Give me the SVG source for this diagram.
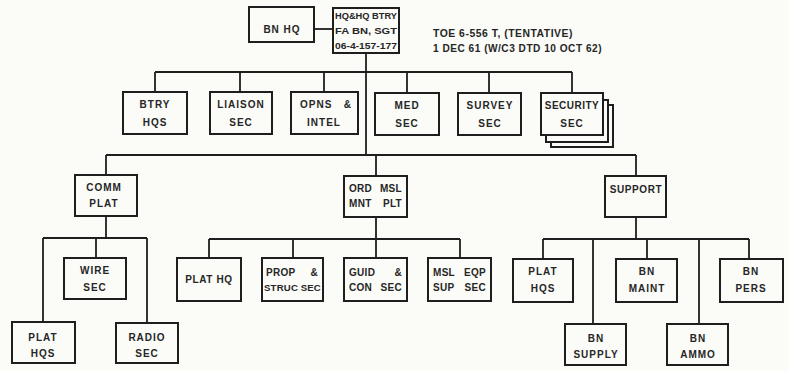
<svg xmlns="http://www.w3.org/2000/svg" width="789" height="371" viewBox="0 0 789 371">
<style>
.bg{fill:#fbfbf8}
.box{fill:#fbfbf8;stroke:#1e1e1e;stroke-width:2}
.ln{stroke:#1e1e1e;stroke-width:1.8;fill:none}
text{font-family:"Liberation Sans",Arial,sans-serif;font-weight:bold;font-size:10px;fill:#262626;letter-spacing:1px}
.c{text-anchor:middle}
.e{text-anchor:end}
.j{font-size:10px;letter-spacing:0.3px}
.s{font-size:9.6px;letter-spacing:0.2px}
.hq{font-size:9px;letter-spacing:0}
.toe{font-size:10px;letter-spacing:0.5px}
</style>
<rect class="bg" x="0" y="0" width="789" height="371"/>
<g id="connectors">
<line class="ln" x1="314" y1="29" x2="333" y2="29"/>
<line class="ln" x1="366" y1="53" x2="366" y2="155"/>
<line class="ln" x1="155" y1="72" x2="572" y2="72"/>
<line class="ln" x1="155" y1="72" x2="155" y2="92"/>
<line class="ln" x1="240" y1="72" x2="240" y2="92"/>
<line class="ln" x1="324" y1="72" x2="324" y2="92"/>
<line class="ln" x1="407" y1="72" x2="407" y2="93"/>
<line class="ln" x1="489" y1="72" x2="489" y2="93"/>
<line class="ln" x1="572" y1="72" x2="572" y2="93"/>
<line class="ln" x1="106" y1="155" x2="636" y2="155"/>
<line class="ln" x1="106" y1="155" x2="106" y2="175"/>
<line class="ln" x1="376" y1="155" x2="376" y2="176"/>
<line class="ln" x1="636" y1="155" x2="636" y2="176"/>
<line class="ln" x1="106" y1="216" x2="106" y2="238"/>
<line class="ln" x1="43" y1="238" x2="147" y2="238"/>
<line class="ln" x1="43" y1="238" x2="43" y2="322"/>
<line class="ln" x1="96" y1="238" x2="96" y2="258"/>
<line class="ln" x1="147" y1="238" x2="147" y2="323"/>
<line class="ln" x1="376" y1="217" x2="376" y2="258"/>
<line class="ln" x1="209" y1="239" x2="460" y2="239"/>
<line class="ln" x1="209" y1="239" x2="209" y2="258"/>
<line class="ln" x1="293" y1="239" x2="293" y2="258"/>
<line class="ln" x1="460" y1="239" x2="460" y2="258"/>
<line class="ln" x1="636" y1="217" x2="636" y2="239"/>
<line class="ln" x1="543" y1="239" x2="749" y2="239"/>
<line class="ln" x1="543" y1="239" x2="543" y2="259"/>
<line class="ln" x1="593" y1="239" x2="593" y2="324"/>
<line class="ln" x1="647" y1="239" x2="647" y2="259"/>
<line class="ln" x1="699" y1="239" x2="699" y2="324"/>
<line class="ln" x1="749" y1="239" x2="749" y2="259"/>
</g>
<g id="bn-hq"><rect class="box" x="249" y="7" width="65" height="35"/><text class="c" x="282" y="33">BN  HQ</text></g>
<g id="hq-btry"><rect class="box" x="333" y="8" width="66" height="45"/>
<text class="hq" x="335" y="19" textLength="62" lengthAdjust="spacingAndGlyphs">HQ&amp;HQ BTRY</text>
<text class="hq" x="335" y="34" textLength="62" lengthAdjust="spacingAndGlyphs">FA BN, SGT</text>
<text class="hq" x="335" y="49" textLength="62" lengthAdjust="spacingAndGlyphs">06-4-157-177</text></g>
<g id="toe"><text class="toe" x="433" y="37" textLength="140" lengthAdjust="spacingAndGlyphs">TOE  6-556 T, (TENTATIVE)</text><text class="toe" x="433" y="52" textLength="169" lengthAdjust="spacingAndGlyphs">1 DEC 61 (W/C3 DTD 10 OCT 62)</text></g>
<g id="btry-hqs"><rect class="box" x="123" y="92" width="64" height="42"/><text class="c" x="155" y="108">BTRY</text><text class="c" x="155" y="126">HQS</text></g>
<g id="liaison"><rect class="box" x="210" y="92" width="62" height="42"/><text class="c" x="241" y="108">LIAISON</text><text class="c" x="241" y="126">SEC</text></g>
<g id="opns"><rect class="box" x="291" y="92" width="67" height="42"/><text x="300" y="108">OPNS</text><text class="e" x="352" y="108">&amp;</text><text class="c" x="324" y="126">INTEL</text></g>
<g id="med"><rect class="box" x="375" y="93" width="64" height="42"/><text class="c" x="407" y="109">MED</text><text class="c" x="407" y="127">SEC</text></g>
<g id="survey"><rect class="box" x="458" y="93" width="63" height="42"/><text class="c" x="490" y="109">SURVEY</text><text class="c" x="490" y="127">SEC</text></g>
<g id="security"><rect class="box" x="551" y="105" width="62" height="42"/><rect class="box" x="546" y="100" width="62" height="42"/><rect class="box" x="541" y="93" width="62" height="42"/><text class="c" x="572" y="109" style="letter-spacing:0.5px">SECURITY</text><text class="c" x="572" y="127">SEC</text></g>
<g id="comm-plat"><rect class="box" x="75" y="175" width="62" height="41"/><text class="c" x="104" y="191">COMM</text><text class="c" x="104" y="207">PLAT</text></g>
<g id="wire"><rect class="box" x="64" y="258" width="62" height="41"/><text class="c" x="95" y="274">WIRE</text><text class="c" x="95" y="291">SEC</text></g>
<g id="comm-plat-hqs"><rect class="box" x="12" y="322" width="63" height="41"/><text class="c" x="43" y="341">PLAT</text><text class="c" x="43" y="357">HQS</text></g>
<g id="radio"><rect class="box" x="116" y="323" width="62" height="40"/><text class="c" x="147" y="341">RADIO</text><text class="c" x="147" y="357">SEC</text></g>
<g id="ord"><rect class="box" x="344" y="176" width="63" height="41"/><text class="j" x="349" y="192">ORD</text><text class="j e" x="402" y="192">MSL</text><text class="j" x="349" y="207">MNT</text><text class="j e" x="402" y="207">PLT</text></g>
<g id="plat-hq"><rect class="box" x="177" y="258" width="64" height="43"/><text class="c" x="209" y="283" style="letter-spacing:0.6px">PLAT HQ</text></g>
<g id="prop"><rect class="box" x="262" y="258" width="61" height="43"/><text class="j" x="266" y="276">PROP</text><text class="j e" x="318" y="276">&amp;</text><text class="s" x="264" y="291">STRUC</text><text class="s e" x="321" y="291">SEC</text></g>
<g id="guid"><rect class="box" x="344" y="258" width="63" height="43"/><text class="j" x="349" y="276">GUID</text><text class="j e" x="402" y="276">&amp;</text><text class="j" x="349" y="291">CON</text><text class="j e" x="402" y="291">SEC</text></g>
<g id="msl-eqp"><rect class="box" x="428" y="258" width="63" height="43"/><text class="j" x="433" y="276">MSL</text><text class="j e" x="486" y="276">EQP</text><text class="j" x="433" y="291">SUP</text><text class="j e" x="486" y="291">SEC</text></g>
<g id="support"><rect class="box" x="605" y="176" width="61" height="41"/><text class="c" x="636" y="193" style="letter-spacing:0.6px">SUPPORT</text></g>
<g id="sup-plat-hqs"><rect class="box" x="513" y="259" width="60" height="43"/><text class="c" x="543" y="275">PLAT</text><text class="c" x="543" y="292">HQS</text></g>
<g id="bn-maint"><rect class="box" x="616" y="259" width="61" height="43"/><text class="c" x="647" y="275">BN</text><text class="c" x="647" y="292">MAINT</text></g>
<g id="bn-pers"><rect class="box" x="720" y="259" width="63" height="43"/><text class="c" x="751" y="275">BN</text><text class="c" x="751" y="292">PERS</text></g>
<g id="bn-supply"><rect class="box" x="565" y="324" width="61" height="41"/><text class="c" x="596" y="342">BN</text><text class="c" x="596" y="358">SUPPLY</text></g>
<g id="bn-ammo"><rect class="box" x="667" y="324" width="61" height="41"/><text class="c" x="698" y="342">BN</text><text class="c" x="698" y="358">AMMO</text></g>
</svg>
